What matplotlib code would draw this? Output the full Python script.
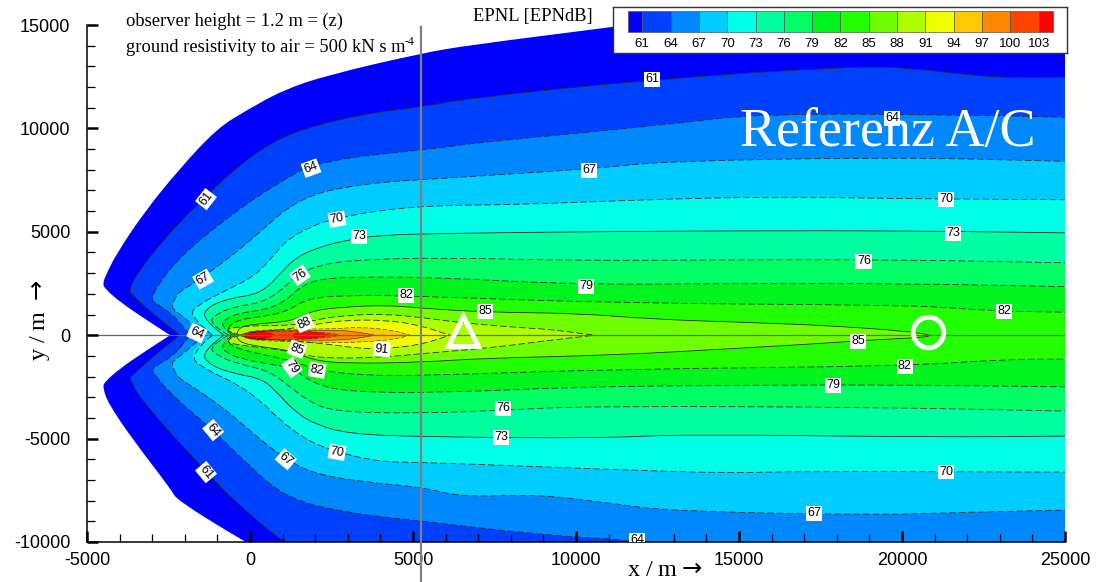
import matplotlib
matplotlib.use('Agg')
import matplotlib.pyplot as plt
from matplotlib.patches import PathPatch
from matplotlib.path import Path
from matplotlib.ticker import MultipleLocator

plt.rcParams['font.family'] = ['Liberation Sans', 'DejaVu Sans']
plt.rcParams['axes.unicode_minus'] = False

W, H = 1103, 582

levels = [61, 64, 67, 70, 73, 76, 79, 82, 85, 88, 91, 94, 97, 100, 103]
band_colors = ['#0000ff', '#0040ff', '#0088ff', '#00ccff', '#00ffe6', '#00ffa0', '#00ff64', '#00f51e',
               '#22ff00', '#70ff00', '#b0ff00', '#f0ff00', '#ffc800', '#ff8800', '#ff4400', '#ff0000']

# contour outlines, (x, y) in metres, upper and lower branch
outer_up = [(-2450, 0), (-3170, 730), (-3990, 1610), (-4450, 2250), (-4520, 2500), (-4400, 2980), (-4090, 3950),
            (-3270, 5890), (-2200, 7980), (-1010, 10000), (-100, 10880),
            (1010, 11850), (2360, 12570), (5240, 13630), (6750, 14030), (11100, 14900), (13000, 15300), (25000, 15300)]
outer_lo = [(-2450, 0), (-3170, -730), (-3990, -1610), (-4450, -2250), (-4520, -2500), (-4350, -3300), (-3580, -5080),
            (-2400, -7500), (-2240, -7980), (-150, -10000), (1000, -11000), (25000, -11000)]

c61_up = [(-2150, 0), (-2860, 890), (-3620, 1950), (-3700, 2150), (-3530, 2820), (-2760, 4430), (-1740, 6130),
          (-510, 7980), (520, 9190), (1640, 10000),
          (3590, 10730), (5240, 11030), (6750, 11460), (12390, 12380), (18560, 13010), (20300, 12910),
          (22080, 12570), (23620, 12430), (25000, 12480)]
c61_lo = [(-2150, 0), (-2860, -890), (-3620, -1950), (-3700, -2150), (-3170, -3470), (-1330, -6610), (-510, -7980),
          (1010, -10000), (2000, -11000), (25000, -11000)]
c64_up = [(-1850, 0), (-2250, 890), (-2950, 1600), (-3020, 1770), (-2860, 2340), (-2250, 3630), (-820, 5560),
          (820, 7340), (2150, 8460), (5830, 9040),
          (6750, 9280), (12640, 10150), (15700, 10730), (22080, 10640), (25000, 10540)]
c64_lo = [(-1850, 0), (-2250, -890), (-2950, -1560), (-3020, -1730), (-2350, -2980), (-1120, -4600), (-100, -6210),
          (1120, -7900), (3000, -8600),
          (5280, -8990), (8960, -9670), (11660, -9900), (13000, -10300), (25000, -10300)]
c67_up = [(-1400, 0), (-1850, 640), (-2350, 1250), (-2400, 1370), (-2250, 2020), (-1740, 2500), (-720, 3630),
          (200, 4840), (1530, 6690), (3480, 7340),
          (5830, 7580), (10740, 8070), (12640, 8410), (19700, 8610), (25000, 8410)]
c67_lo = [(-1400, 0), (-1850, -640), (-2350, -1250), (-2400, -1370), (-2250, -2020), (-1740, -2500), (-720, -3630),
          (200, -4900), (1070, -5970), (1940, -6690),
          (3480, -7100), (5280, -7350), (6500, -7830), (8830, -7690), (11010, -8120), (12950, -8510),
          (19170, -8700), (22000, -8560), (25000, -8460)]
c70_up = [(-1150, 0), (-1920, 970), (-1530, 1530), (-720, 2180), (100, 2820), (610, 3630), (1120, 4600), (1940, 5320),
          (2660, 5650), (3990, 6050), (5830, 6290), (8000, 6300), (12000, 6550), (16000, 6700), (20000, 6600),
          (25000, 6550)]
c70_lo = [(-1150, 0), (-1920, -970), (-1330, -1690), (-410, -2340), (310, -3150), (920, -4110), (1740, -5080),
          (2660, -5650), (3990, -6130), (5280, -6140), (11660, -6530), (14750, -6670), (16840, -6580),
          (25000, -6620)]
c73_up = [(-800, 0), (-1510, 810), (-1230, 1450), (-510, 1820), (100, 1940), (560, 2340), (920, 2980), (1430, 3790),
          (2150, 4270), (2970, 4600), (3990, 4840), (5830, 4920), (10000, 5000), (15000, 5050), (20000, 5050),
          (25000, 4950)]
c73_lo = [(-800, 0), (-1510, -810), (-1230, -1450), (-510, -1850), (360, -2100), (820, -2740), (1330, -3630),
          (1940, -4270), (2970, -4760), (5210, -4920), (10900, -4980), (13200, -4790), (21000, -4930), (25000, -4880)]
c76_up = [(-650, 0), (-1280, 560), (-1020, 1050), (-410, 1400), (310, 1560), (920, 2100), (1430, 2900), (1940, 3300),
          (2970, 3630), (5830, 3760), (10000, 3600), (15000, 3650), (20000, 3650), (25000, 3500)]
c76_lo = [(-650, 0), (-1280, -560), (-1020, -970), (-410, -1370), (510, -1690), (1120, -2340), (1740, -3150),
          (2560, -3710), (5280, -3780), (7760, -3630), (10300, -3430), (19000, -3480), (25000, -3670)]
c79_up = [(-550, 0), (-920, 480), (-720, 810), (-310, 1080), (510, 1240), (1120, 1690), (1530, 2340), (2150, 2740),
          (3480, 2820), (5830, 2790), (10000, 2450), (15000, 2500), (20000, 2500), (25000, 2350)]
c79_lo = [(-550, 0), (-920, -480), (-720, -850), (-310, -1130), (720, -1450), (1290, -1550), (1940, -2340),
          (2970, -2740), (5830, -2790), (10000, -2500), (15000, -2420), (20000, -2400), (25000, -2500)]
c82_up = [(-450, 0), (-770, 240), (-410, 730), (310, 890), (1120, 1130), (1740, 1770), (2970, 1940), (5240, 1890),
          (11100, 1550), (20210, 1450), (21500, 1310), (23190, 1160), (25000, 1110)]
c82_lo = [(-450, 0), (-770, -240), (-410, -650), (510, -970), (1430, -1290), (2040, -1690), (3480, -1940),
          (5240, -1960), (11100, -1640), (20000, -1500), (23190, -1160), (25000, -1160)]
c85_up = [(-400, 0), (-410, 400), (310, 560), (1330, 690), (1940, 1210), (2970, 1370), (4190, 1450), (5240, 1310),
          (7210, 1110), (10060, 1060), (12390, 770), (15000, 630), (17600, 480), (20210, 190), (20860, 0)]
c85_lo = [(-400, 0), (-410, -320), (310, -560), (1230, -730), (1940, -1210), (2970, -1370), (5240, -1310),
          (7210, -1110), (11100, -970), (15000, -630), (17600, -390), (18900, -240), (20740, -100), (20860, 0)]
c88_up = [(-300, 0), (-820, 240), (-410, 400), (510, 480), (1430, 480), (2040, 760), (2970, 970), (4190, 1020),
          (5210, 870), (6560, 580), (8500, 340), (9140, 290), (10580, 0)]
c88_lo = [(-300, 0), (-820, -240), (-410, -480), (920, -680), (1640, -970), (2560, -1130), (4190, -1050),
          (5210, -900), (7450, -600), (9000, -280), (10580, 0)]
c91_up = [(-300, 0), (-300, 80), (920, 240), (2150, 560), (2970, 730), (4190, 730), (5210, 480), (6130, 0)]
c91_lo = [(-300, 0), (-300, -80), (920, -240), (2250, -400), (3370, -650), (4090, -650), (5210, -480), (6130, 0)]
c94_up = [(-200, 0), (-200, 220), (1500, 300), (2560, 300), (3370, 400), (4400, 240), (4910, 0)]
c94_lo = [(-200, 0), (-200, -240), (1500, -320), (2560, -350), (3370, -340), (4400, -210), (4910, 0)]
c97_up = [(-160, 0), (-160, 230), (1940, 210), (2760, 240), (3270, 160), (3830, 0)]
c97_lo = [(-160, 0), (-160, -230), (1940, -240), (2760, -240), (3270, -160), (3830, 0)]
c100_up = [(-150, 0), (-150, 210), (1330, 200), (2350, 130), (2760, 0)]
c100_lo = [(-150, 0), (-150, -220), (1330, -220), (2350, -130), (2760, 0)]
c103a_up = [(-130, 0), (-30, 200), (600, 190), (760, 0)]
c103a_lo = [(-130, 0), (-30, -210), (600, -190), (760, 0)]
c103b_up = [(1280, 0), (1400, 190), (2100, 170), (2450, 0)]
c103b_lo = [(1280, 0), (1400, -190), (2100, -170), (2450, 0)]

level_outlines = [(c61_up, c61_lo), (c64_up, c64_lo), (c67_up, c67_lo), (c70_up, c70_lo), (c73_up, c73_lo),
                  (c76_up, c76_lo), (c79_up, c79_lo), (c82_up, c82_lo), (c85_up, c85_lo), (c88_up, c88_lo),
                  (c91_up, c91_lo), (c94_up, c94_lo), (c97_up, c97_lo), (c100_up, c100_lo)]

label_text = ['61', '64', '67', '70', '73', '76', '82', '88', '85', '79', '76', '70', '73', '67', '61', '64', '82',
              '64', '85', '79', '82', '91', '85', '82', '79', '76', '73', '70', '70', '67', '67', '64', '61', '64']
label_x = [-1350, 1870, -1440, 2670, 3340, 1530, 4790, 1660, 7210, 10310, 18830, 21350, 21560, 10400, 12330, 19690, 23130,
           -1630, 1440, 1290, 2060, 4050, 18650, 20090, 17880, 7760, 7700, 2670, 21350, 1100, 17300, -1130, -1350, 11870]
label_y = [6580, 8080, 2710, 5610, 4790, 2900, 1930, 580, 1160, 2370, 3580, 6580, 4930, 7980, 12380, 10490, 1160,
           100, -680, -1550, -1690, -680, -290, -1500, -2420, -3530, -4930, -5660, -6620, -6000, -8610, -4590, -6620, -9910]
label_rot = [52, 20, 30, 10, 0, 35, 0, 25, 0, 0, 0, 0, 0, 0, 0, 0, 0,
             -25, -20, -55, -10, -5, 0, 0, 0, 0, 0, -10, 0, -40, 0, -50, -50, 0]

triangle_x, triangle_y = [6530], [200]
circle_x, circle_y = [20800], [150]


# quadratic curves through the read points, ends stay sharp
def curve(outline):
    verts = [outline[0]]
    codes = [Path.LINETO]
    for a, b in zip(outline[1:-1], outline[2:]):
        verts += [a, ((a[0] + b[0]) / 2, (a[1] + b[1]) / 2)]
        codes += [Path.CURVE3, Path.CURVE3]
    verts.append(outline[-1])
    codes.append(Path.LINETO)
    return verts, codes


def fill_level(ax, up, lo, color):
    vu, cu = curve(up)
    vl, cl = curve(lo[::-1])
    cu[0] = Path.MOVETO
    # lower branch runs backwards, its curves are built on the reversed points
    ax.add_patch(PathPatch(Path(vu + vl + [vu[0]], cu + cl + [Path.CLOSEPOLY]), fc=color, ec='none', lw=0, zorder=1))


def line_level(ax, up, lo, solid, lw=0.6):
    for outline in (up, lo):
        v, c = curve(outline)
        c[0] = Path.MOVETO
        ls = '-' if solid else (0, (8, 3.5))
        ax.add_patch(PathPatch(Path(v, c), fc='none', ec='#2e2e2e', lw=lw, ls=ls, zorder=2))


fig = plt.figure(figsize=(W / 100, H / 100), dpi=100)
ax = fig.add_axes([87 / W, 1 - 542 / H, 978 / W, 517 / H])
ax.set_axisbelow(False)

fill_level(ax, outer_up, outer_lo, band_colors[0])
for i, (up, lo) in enumerate(level_outlines):
    fill_level(ax, up, lo, band_colors[i + 1])
fill_level(ax, c103a_up, c103a_lo, band_colors[15])
fill_level(ax, c103b_up, c103b_lo, band_colors[15])

for i, (up, lo) in enumerate(level_outlines):
    line_level(ax, up, lo, levels[i] in (61, 73, 85, 97), 0.6 if levels[i] < 94 else 0.4)

ax.axhline(0, color='#666666', lw=0.9, zorder=2)
ax.plot([5245, 5245], [14900, -11900], color='#808080', lw=1.6, clip_on=False, zorder=4)

for t, x, y, r in zip(label_text, label_x, label_y, label_rot):
    ax.text(x, y, t, fontsize=9, rotation=r, ha='center', va='center', zorder=5, clip_on=True,
            bbox=dict(facecolor='white', edgecolor='none', pad=1.0))

ax.plot(triangle_x, triangle_y, '^', ms=22, mfc='none', mec='white', mew=3.5, zorder=6)
ax.plot(circle_x, circle_y, 'o', ms=22, mfc='none', mec='white', mew=3.5, zorder=6)

ax.set_xlim(-5000, 25000)
ax.set_ylim(-10000, 15000)
ax.xaxis.set_major_locator(MultipleLocator(5000))
ax.yaxis.set_major_locator(MultipleLocator(5000))
ax.xaxis.set_minor_locator(MultipleLocator(1000))
ax.yaxis.set_minor_locator(MultipleLocator(1000))
ax.tick_params(which='major', direction='in', length=8, width=1.8, labelsize=13)
ax.tick_params(which='minor', direction='in', length=5.5, width=0.9)
ax.tick_params(axis='y', which='major', pad=12)
ax.tick_params(axis='x', which='major', pad=7)
ax.spines['top'].set_visible(False)
ax.spines['right'].set_visible(False)
ax.spines['left'].set_linewidth(1.1)
ax.spines['bottom'].set_linewidth(1.1)

serif = ['Liberation Serif', 'DejaVu Serif']
fig.text(126 / W, 1 - 21 / H, 'observer height = 1.2 m = (z)', family=serif, fontsize=13.3, va='center')
fig.text(126 / W, 1 - 47 / H, 'ground resistivity to air = 500 kN s m', family=serif, fontsize=13.3, va='center')
fig.text(405 / W, 1 - 42 / H, '-4', family=serif, fontsize=8.5, va='center')
fig.text(473 / W, 1 - 17 / H, 'EPNL [EPNdB]', family=serif, fontsize=13.3, va='center')
fig.text(740 / W, 1 - 146 / H, 'Referenz A/C', family=serif, fontsize=38.9, color='white', va='baseline', zorder=10)
fig.text(40 / W, 1 - 320 / H, 'y / m $\\rightarrow$', family=serif, fontsize=17.5, rotation=90, ha='center', va='center')
fig.text(665 / W, 1 - 570 / H, 'x / m$\\rightarrow$', family=serif, fontsize=17.5, ha='center', va='center')

# colour legend box
cax = fig.add_axes([613 / W, 1 - 53 / H, 454 / W, 46 / H], zorder=8)
cax.set_facecolor('white')
cax.set_xlim(57.9, 106)
cax.set_ylim(46, 0)
edges = [59.5] + levels + [104.5]
for i in range(16):
    cax.bar(edges[i], 21, width=edges[i + 1] - edges[i], bottom=4, align='edge', color=band_colors[i],
            edgecolor='#555555', linewidth=0.5)
for lev in levels:
    cax.text(lev, 37, str(lev), fontsize=9.5, ha='center', va='center')
cax.set_xticks([])
cax.set_yticks([])
for s in cax.spines.values():
    s.set_linewidth(1.0)
    s.set_color('#333333')

fig.savefig('out.png', dpi=100)
